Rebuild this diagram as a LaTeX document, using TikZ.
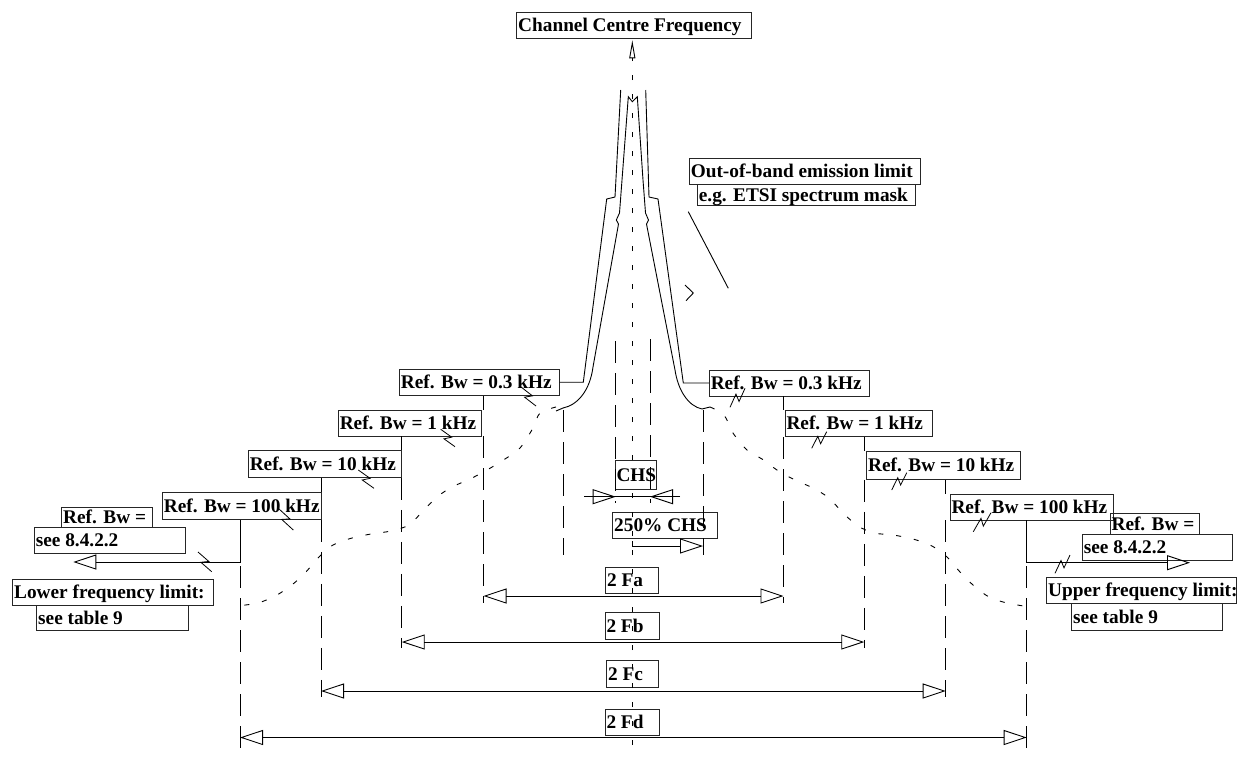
\documentclass[tikz,border=0pt]{standalone}
\usepackage{fontspec}
\setmainfont{Liberation Serif}
\usetikzlibrary{arrows.meta,calc}
\newcommand{\zap}[2]{\draw[zapline] (#1) -- ($(#1)!0.58!(#2)!3.5pt!90:(#2)$) -- ($(#1)!0.42!(#2)!3.5pt!-90:(#2)$) -- (#2);}
\begin{document}
\begin{tikzpicture}[x=1pt,y=-1pt,
 box/.style={draw=black!85,line width=0.9pt,inner xsep=1.5pt,inner ysep=0pt,font=\bfseries\fontsize{19.3pt}{22pt}\selectfont,text height=12.8pt,text depth=0pt},
 curve/.style={line width=0.9pt},
 longdash/.style={line width=0.9pt,dash pattern=on 22pt off 10pt},
 centre/.style={line width=0.9pt,dash pattern=on 5pt off 14pt},
 dots/.style={line width=0.9pt,dash pattern=on 5pt off 13pt},
 zapline/.style={line width=0.8pt},
 tri/.style={line width=0.9pt,-{Triangle[open,length=23pt,width=15pt]}},
 dim/.style={line width=0.9pt,{Triangle[open,length=23pt,width=15pt]}-{Triangle[open,length=23pt,width=15pt]}}]
\useasboundingbox (0,0) rectangle (1247,756);

% ---------- labels ----------
\node[box,minimum height=25.6pt] (ccf) at (634.2,25.5) {\makebox[232pt][l]{Channel Centre Frequency}};
\node[box,minimum height=26pt] (oob1) at (805,171.3) {\makebox[228.4pt][l]{Out-of-band emission limit}};
\node[box,minimum height=21.4pt] (oob2) at (806.2,195) {\makebox[214.7pt][l]{e.g. ETSI spectrum mask}};
\node[box,minimum height=25.7pt] (L03) at (479.2,382.2) {\makebox[156.7pt][l]{Ref. Bw = 0.3 kHz}};
\node[box,minimum height=26pt] (L1) at (410,423) {\makebox[140.4pt][l]{Ref. Bw = 1 kHz}};
\node[box,minimum height=26.6pt] (L10) at (325,464) {\makebox[150.4pt][l]{Ref. Bw = 10 kHz}};
\node[box,minimum height=26.6pt] (L100) at (241.7,506) {\makebox[155.7pt][l]{Ref. Bw = 100 kHz}};
\node[box,minimum height=20pt] (Lref) at (107,517.3) {\makebox[87.6pt][l]{Ref. Bw =}};
\node[box,minimum height=26pt] (Lsee) at (109.7,540.3) {\makebox[147.7pt][l]{see 8.4.2.2}};
\node[box,minimum height=26.4pt] (Llow) at (113,592.5) {\makebox[197.6pt][l]{Lower frequency limit:}};
\node[box,minimum height=24.3pt] (Ltab) at (112.5,617.8) {\makebox[148.6pt][l]{see table 9}};
\node[box,minimum height=26pt] (R03) at (789.3,383) {\makebox[157pt][l]{Ref. Bw = 0.3 kHz}};
\node[box,minimum height=26.7pt] (R1) at (858.7,423.3) {\makebox[144.3pt][l]{Ref. Bw = 1 kHz}};
\node[box,minimum height=27.6pt] (R10) at (943.7,465.5) {\makebox[151pt][l]{Ref. Bw = 10 kHz}};
\node[box,minimum height=26pt] (R100) at (1031.7,507) {\makebox[160.3pt][l]{Ref. Bw = 100 kHz}};
\node[box,minimum height=20.7pt] (Rref) at (1154.7,523.7) {\makebox[86.3pt][l]{Ref. Bw =}};
\node[box,minimum height=26pt] (Rsee) at (1157.5,547) {\makebox[147.4pt][l]{see 8.4.2.2}};
\node[box,minimum height=26pt] (Rupp) at (1141.3,590.3) {\makebox[186.3pt][l]{Upper frequency limit:}};
\node[box,minimum height=26.7pt] (Rtab) at (1147.2,616.7) {\makebox[148pt][l]{see table 9}};
\node[box,minimum height=28.3pt] (chs) at (635.5,474.8) {\makebox[38pt][l]{CHS}};
\node[box,minimum height=25.6pt] (chs250) at (665,525.5) {\makebox[101.6pt][l]{250\% CHS}};
\node[box,minimum height=26pt] (fa) at (632,580.3) {\makebox[49.6pt][l]{2 Fa}};
\node[box,minimum height=26.3pt] (fb) at (632,625.8) {\makebox[51pt][l]{2 Fb}};
\node[box,minimum height=26.6pt] (fc) at (632.3,674) {\makebox[48.3pt][l]{2 Fc}};
\node[box,minimum height=26pt] (fd) at (632,722) {\makebox[51pt][l]{2 Fd}};

% ---------- reference x positions ----------
\coordinate (XLa) at (483.5,0); \coordinate (XLb) at (401.7,0);
\coordinate (XLc) at (321,0);   \coordinate (XLd) at (240,0);
\coordinate (XLe) at (563.5,0);
\coordinate (XRa) at (783.5,0); \coordinate (XRb) at (864.3,0);
\coordinate (XRc) at (945.7,0); \coordinate (XRd) at (1026.7,0);
\coordinate (XRe) at (703,0);
\coordinate (XC) at (632.3,0);

% ---------- centre line ----------
\coordinate (cbot) at (632.3,745);
\draw[centre,shorten >=1.5pt,-{Triangle[open,length=18pt,width=6pt]}] (cbot) -- (cbot |- ccf.south);

% ---------- spectrum (inner curve) ----------
\draw[curve] (556,411) -- (563,408) .. controls (578,405) and (590,390) .. (593,367)
  -- (618.5,224) -- (616.3,220) -- (619.5,213) -- (622,180) -- (628.3,96.7) -- (632.3,101.7)
  -- (637.3,96.7) -- (643,180) -- (645.5,213) -- (648.5,220) -- (646.5,224) -- (675,370)
  .. controls (678,390) and (688,406) .. (702,409) -- (710,407);

% ---------- out-of-band mask ----------
\draw[curve] (620.7,90) -- (615,197) -- (606.7,199) -- (583.3,382.2) -- (L03.east);
\draw[curve] (645.7,90) -- (649,197) -- (658,199) -- (683.3,383) -- (R03.west);

% ---------- staircase ----------
\draw[curve] (L03.south -| XLa) -- (L1.north -| XLa);
\draw[curve] (L1.south -| XLb) -- (L10.north -| XLb);
\draw[curve] (L10.south -| XLc) -- (L100.north -| XLc);
\coordinate (tipL) at (73.3,562);
\draw[tri] (L100.south -| XLd) |- (tipL);
\draw[curve] (R03.south -| XRa) -- (R1.north -| XRa);
\draw[curve] (R1.south -| XRb) -- (R10.north -| XRb);
\draw[curve] (R10.south -| XRc) -- (R100.north -| XRc);
\coordinate (tipR) at (1190,562.7);
\draw[tri] (R100.south -| XRd) |- (tipR);

% ---------- long dashed verticals ----------
\draw[longdash] (XLe |- 0,410) -- (XLe |- 0,555);
\draw[longdash] (L1.south -| XLa) -- (XLa |- 0,603);
\draw[longdash] (L10.south -| XLb) -- (XLb |- 0,648);
\draw[longdash] (L100.south -| XLc) -- (XLc |- 0,697);
\draw[longdash] (XLd |- 0,566) -- (XLd |- 0,752);
\draw[longdash] (XRe |- 0,410) -- (XRe |- 0,555);
\draw[longdash] (R1.south -| XRa) -- (XRa |- 0,603);
\draw[longdash] (R10.south -| XRb) -- (XRb |- 0,648);
\draw[longdash] (R100.south -| XRc) -- (XRc |- 0,697);
\draw[longdash] (XRd |- 0,566) -- (XRd |- 0,752);
\draw[longdash] (615.7,341) -- (615.7,503);
\draw[longdash] (650,339) -- (650,503);

% ---------- dimension arrows ----------
\draw[dim] (XLa |- 0,596) -- (XRa |- 0,596);
\draw[dim] (XLb |- 0,642) -- (XRb |- 0,642);
\draw[dim] (XLc |- 0,691) -- (XRc |- 0,691);
\draw[dim] (XLd |- 0,737.5) -- (XRd |- 0,737.5);

% ---------- CHS arrows ----------
\coordinate (chsA) at (584,496.7); \coordinate (chsB) at (680,496.7);
\draw[tri] (chsA) -- (615.7,496.7);
\draw[tri] (chsB) -- (650,496.7);
\draw[curve] (chsA) -- (chsB);
\draw[tri] (XC |- 0,541) |- (XRe |- 0,546);

% ---------- out-of-band pointer ----------
\draw[curve] (688.3,211.7) -- (728.3,288.3);
\draw[curve] (685,285) -- (693.3,293) -- (686,300.7);

% ---------- dotted curves ----------
\draw[dots] plot[smooth,tension=0.5] coordinates {(556,407) (540,413) (533,428) (520,448) (505,459) (487,470) (470,479) (452,487) (437,497) (422,512) (409,525) (391,531) (371,534) (352,538) (333,545) (319,557) (305,573) (293,584) (277,595) (258,603) (236,606)};
\draw[dots] plot[smooth,tension=0.5] coordinates {(710,407) (724,415) (733,433) (747,450) (762,459) (777,470) (795,480) (813,488) (829,498) (843,513) (858,526) (874,533) (893,535) (913,539) (932,546) (947,557) (960,572) (973,585) (989,597) (1007,603) (1030,607)};

% ---------- lightning callouts ----------
\zap{521,387}{536,406}
\zap{440.7,429.3}{455,446.7}
\zap{358.3,470}{374,488.3}
\zap{278.3,508.3}{293.3,530}
\zap{211.7,571.7}{198,552}
\zap{745,388.3}{730,407.3}
\zap{826.7,431.7}{811.7,448.3}
\zap{906.7,472.7}{891.7,490}
\zap{991,512.7}{973.3,531.7}
\zap{1055,573.3}{1070,555}
\end{tikzpicture}
\end{document}
